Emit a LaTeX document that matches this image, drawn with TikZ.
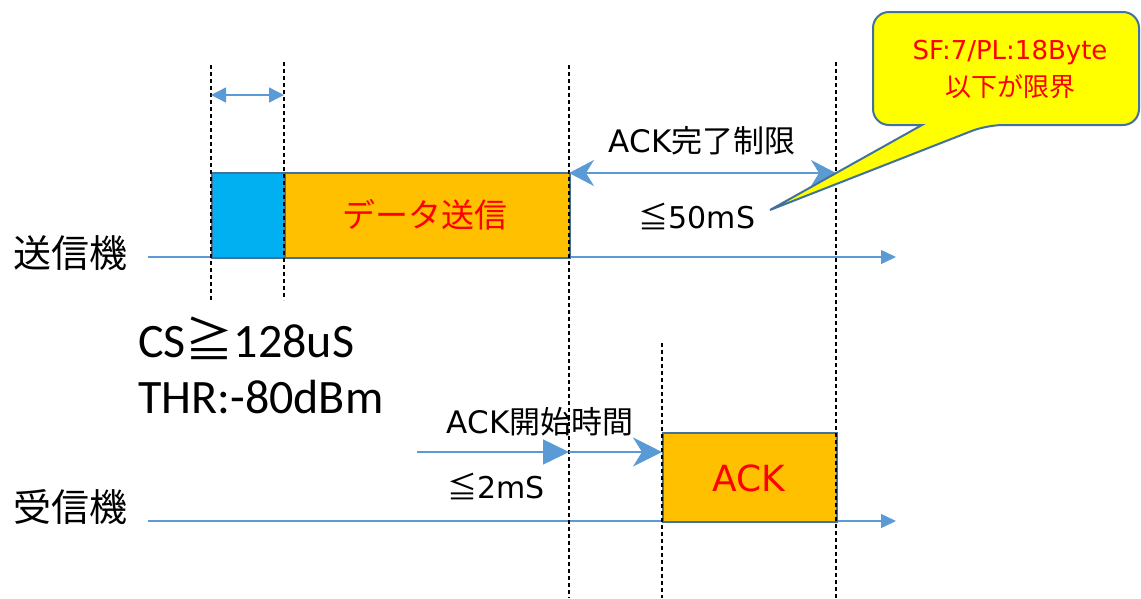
\documentclass[tikz,border=0pt]{standalone}
\usepackage{fontspec}
\setmainfont{DejaVu Sans}
\newfontfamily\jp{Noto Sans CJK JP}
\newfontfamily\carl{Carlito}
\usetikzlibrary{arrows.meta}
\definecolor{csblue}{HTML}{00B0F0}
\definecolor{orng}{HTML}{FFC000}
\definecolor{bord}{HTML}{41719C}
\definecolor{lblue}{HTML}{5B9BD5}
\definecolor{ylw}{HTML}{FFFF00}
\definecolor{rd}{HTML}{FF0000}
\tikzset{
  fs/.style={font=\fontsize{#1}{#1}\selectfont},
  timeline/.style={draw=lblue, line width=1.4pt, -{Triangle[length=15pt,width=14pt]}},
  guide/.style={draw=black, line width=1.1pt, dash pattern=on 4pt off 3pt},
  slot/.style={draw=bord, line width=2pt, anchor=north west, inner sep=0pt},
  dimsmall/.style={draw=lblue, line width=1.4pt, {Triangle[length=15pt,width=15pt]}-{Triangle[length=15pt,width=15pt]}},
  dimbig/.style={draw=lblue, line width=1.4pt, {Stealth[length=25pt,width=26pt,inset=8pt]}-{Stealth[length=25pt,width=26pt,inset=8pt]}},
  arrtri/.style={draw=lblue, line width=1.4pt, -{Triangle[length=26pt,width=25pt]}},
  arrst/.style={draw=lblue, line width=1.4pt, -{Stealth[length=29pt,width=29pt,inset=9pt]}},
  lbl/.style={inner sep=0pt, text=black},
  redlbl/.style={inner sep=0pt, text=rd},
}
\begin{document}
\begin{tikzpicture}[x=1pt,y=-1pt]
\useasboundingbox (0,0) rectangle (1141,598);

% timelines
\coordinate (tx0) at (148,257);
\coordinate (tx1) at (896,257);
\coordinate (rx0) at (148,521);
\coordinate (rx1) at (896,521);
\draw[timeline] (tx0) -- (tx1);
\draw[timeline] (rx0) -- (rx1);

% labels of stations
\node[lbl, fs=38, anchor=west] (tx) at (13,253) {\jp 送信機};
\node[lbl, fs=38, anchor=west] (rx) at (13,507) {\jp 受信機};

% boxes
\node[slot, fill=csblue, minimum width=73pt, minimum height=85pt] (cs) at (211,172) {};
\node[slot, fill=orng, minimum width=285pt, minimum height=85pt] (data) at (284,172) {};
\node[redlbl, fs=33] (datat) at (425,215) {\jp データ送信};
\node[slot, fill=orng, minimum width=174pt, minimum height=89pt] (ack) at (662,432) {};
\node[redlbl, fs=36] (ackt) at (749,478) {ACK};

% guide lines
\coordinate (g1a) at (211,65);  \coordinate (g1b) at (211,302);
\coordinate (g2a) at (284,62);  \coordinate (g2b) at (284,300);
\coordinate (g3a) at (569,65);  \coordinate (g3b) at (569,598);
\coordinate (g4a) at (662,343); \coordinate (g4b) at (662,598);
\coordinate (g5a) at (836,62);  \coordinate (g5b) at (836,598);
\draw[guide] (g1a) -- (g1b);
\draw[guide] (g2a) -- (g2b);
\draw[guide] (g3a) -- (g3b);
\draw[guide] (g4a) -- (g4b);
\draw[guide] (g5a) -- (g5b);

% CS dimension
\coordinate (d1a) at (211,95);
\coordinate (d1b) at (284,95);
\draw[dimsmall] (d1a) -- (d1b);

% ACK completion limit
\coordinate (d2a) at (569,173);
\coordinate (d2b) at (836,173);
\draw[dimbig] (d2a) -- (d2b);
\node[lbl, fs=31] (acklim) at (702,141) {ACK\jp 完了制限};
\node[lbl, fs=30] (lim50) at (697,216) {{\jp ≦}50mS};

% ACK start time
\coordinate (a1) at (417,452);
\coordinate (a2) at (569,452);
\coordinate (a3) at (662,452);
\draw[arrtri] (a1) -- (a2);
\draw[arrst] (a2) -- (a3);
\node[lbl, fs=31] (ackst) at (540,422) {ACK\jp 開始時間};
\node[lbl, fs=30] (lim2) at (496,486) {{\jp ≦}2mS};

% CS text
\node[lbl, fs=48, anchor=base west] (cst) at (138,357) {\carl CS{\jp ≧}128uS};
\node[lbl, fs=48, anchor=base west] (thr) at (138,413) {\carl THR:-80dBm};

% callout
\draw[draw=bord, line width=2pt, fill=ylw, rounded corners=16pt]
  (873,70) -- (873,12) -- (1139,12) -- (1139,125) -- (987,125)
  [sharp corners] -- (770,210) -- (922,125)
  [rounded corners=16pt] -- (873,125) -- cycle;
\node[redlbl, fs=26] (cl1) at (1010,53) {SF:7/PL:18Byte};
\node[redlbl, fs=26] (cl2) at (1010,87) {\jp 以下が限界};
\end{tikzpicture}
\end{document}
